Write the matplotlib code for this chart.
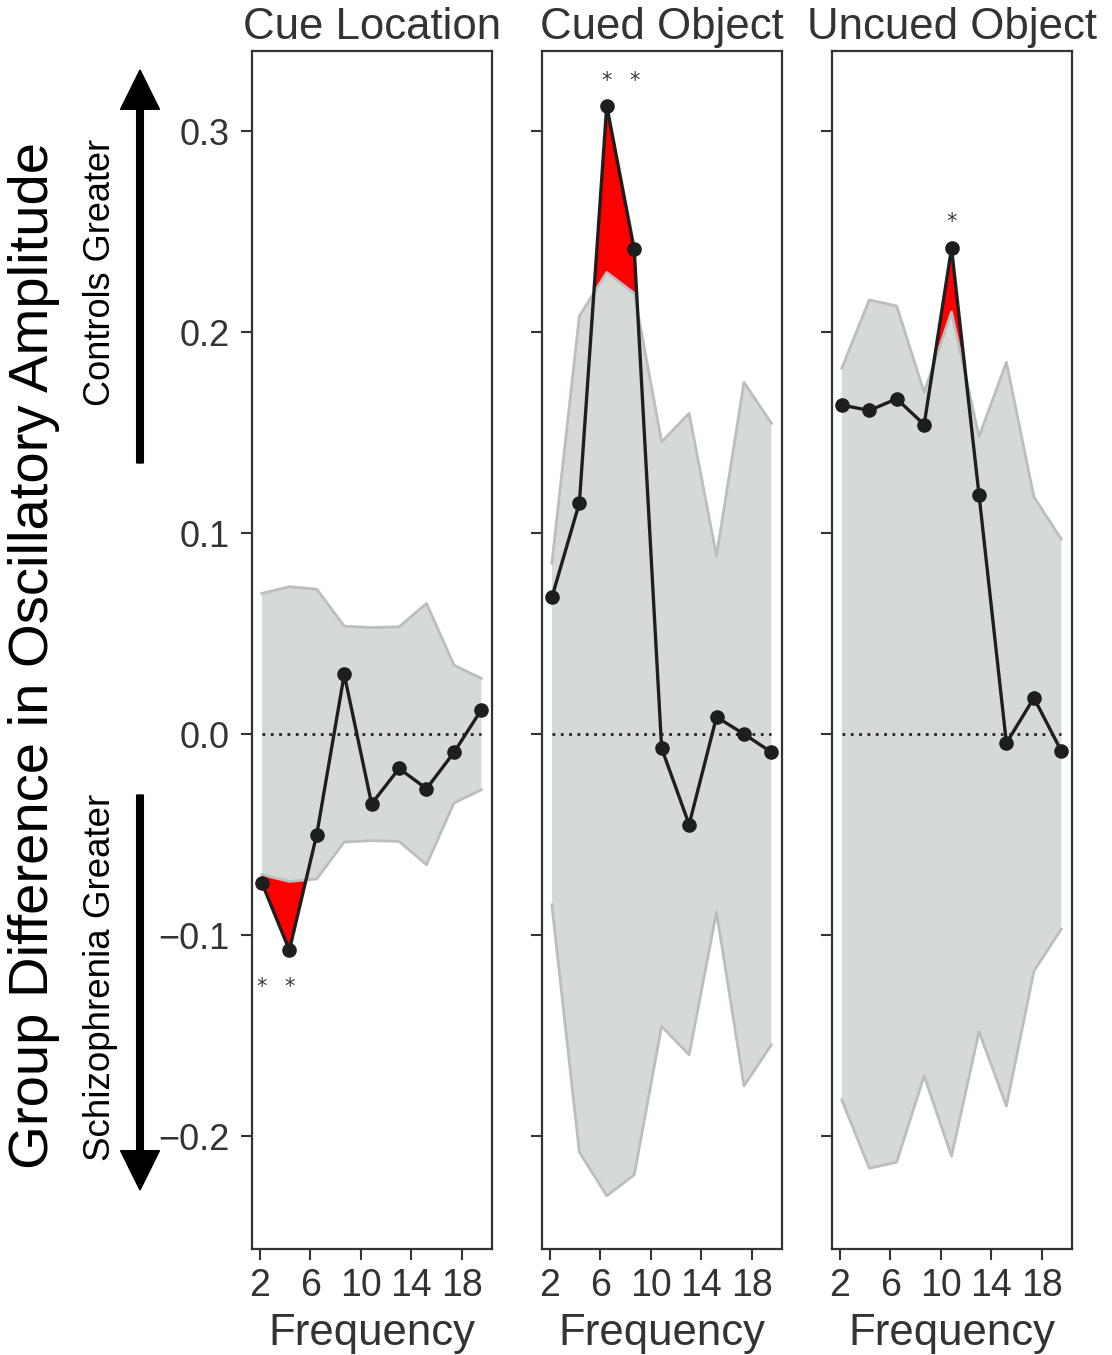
import matplotlib
matplotlib.use('Agg')
import matplotlib.pyplot as plt
import numpy as np

# frequencies (x positions of the 9 points)
freqs = [2.15, 4.33, 6.5, 8.68, 10.85, 13.03, 15.2, 17.38, 19.55]

titles = ['Cue Location', 'Cued Object', 'Uncued Object']

# group difference per frequency
diff_cue_loc = [-0.074, -0.1075, -0.050, 0.0297, -0.0347, -0.0171, -0.0272, -0.0091, 0.0121]
diff_cued_obj = [0.068, 0.115, 0.3126, 0.2411, -0.007, -0.045, 0.0085, 0.0, -0.009]
diff_uncued_obj = [0.1637, 0.161, 0.1668, 0.154, 0.2417, 0.119, -0.0045, 0.018, -0.0084]

# half width of the null band (band is symmetric around zero)
band_cue_loc = [0.070, 0.0733, 0.0721, 0.0537, 0.053, 0.0534, 0.065, 0.0343, 0.0277]
band_cued_obj = [0.085, 0.208, 0.2297, 0.2193, 0.1454, 0.1596, 0.0886, 0.175, 0.1546]
band_uncued_obj = [0.182, 0.216, 0.213, 0.170, 0.210, 0.148, 0.185, 0.118, 0.097]

# significance stars: (panel, point index, y)
stars = [(0, 0, -0.126), (0, 1, -0.126), (1, 2, 0.325), (1, 3, 0.325), (2, 4, 0.255)]

diffs = [diff_cue_loc, diff_cued_obj, diff_uncued_obj]
bands = [band_cue_loc, band_cued_obj, band_uncued_obj]

font = ['Liberation Sans', 'DejaVu Sans']
txt_col = '#333333'

fig = plt.figure(figsize=(11.12, 13.55), dpi=100)
lefts = [0.2263, 0.4871, 0.7478]
axs = [fig.add_axes([l, 0.0782, 0.2160, 0.8841]) for l in lefts]

for i, ax in enumerate(axs):
    x = np.array(freqs)
    y = np.array(diffs[i])
    b = np.array(bands[i])
    ax.fill_between(x, -b, b, facecolor='#d5dad6', edgecolor='none', zorder=1)
    ax.plot(x, b, color='#bdbdbd', lw=2, zorder=3)
    ax.plot(x, -b, color='#bdbdbd', lw=2, zorder=3)
    ax.fill_between(x, y, b, where=y > b, interpolate=True, color='red', lw=0, zorder=2)
    ax.fill_between(x, y, -b, where=y < -b, interpolate=True, color='red', lw=0, zorder=2)
    ax.plot([x[0], x[-1]], [0, 0], color='#222222', ls=(0, (1, 2)), lw=2, zorder=4)
    ax.plot(x, y, color='#1e1e1e', lw=2.4, marker='o', ms=9.5, zorder=5)

    ax.set_xlim(1.34, 20.38)
    ax.set_ylim(-0.2562, 0.3398)
    ax.set_xticks([2, 6, 10, 14, 18])
    ax.set_yticks([-0.2, -0.1, 0.0, 0.1, 0.2, 0.3])
    ax.tick_params(direction='out', length=8, width=1.5, color='#333333', pad=6)
    for lab in ax.get_xticklabels():
        lab.set_family(font)
        lab.set_fontsize(27)
        lab.set_color(txt_col)
    if i == 0:
        ax.set_yticklabels(['\u22120.2', '\u22120.1', '0.0', '0.1', '0.2', '0.3'])
        for lab in ax.get_yticklabels():
            lab.set_family(font)
            lab.set_fontsize(26)
            lab.set_color(txt_col)
        ax.tick_params(axis='y', pad=8)
    else:
        ax.set_yticklabels([])
    for s in ax.spines.values():
        s.set_color('#333333')
        s.set_linewidth(1.6)
    ax.set_title(titles[i], family=font, fontsize=31.5, color=txt_col, pad=9)
    ax.set_xlabel('Frequency', family=font, fontsize=31.5, color=txt_col, labelpad=6)

for p, k, ys in stars:
    axs[p].text(freqs[k], ys, '*', ha='center', va='center', fontsize=15, color='#3a3a3a')

# y label and direction arrows
fig.text(0.031, 0.516, 'Group Difference in Oscillatory Amplitude', rotation=90,
         ha='center', va='center', family=font, fontsize=40.5, color='black')
fig.text(0.090, 0.799, 'Controls Greater', rotation=90, ha='center', va='center',
         family=font, fontsize=26, color='black')
fig.text(0.090, 0.279, 'Schizophrenia Greater', rotation=90, ha='center', va='center',
         family=font, fontsize=26.5, color='black')
fig.patches.append(matplotlib.patches.FancyArrow(
    0.1259, 1 - 463 / 1355, 0, (463 - 70) / 1355, width=0.006, head_width=0.035,
    head_length=0.029, length_includes_head=True, color='black',
    transform=fig.transFigure, figure=fig))
fig.patches.append(matplotlib.patches.FancyArrow(
    0.1259, 1 - 795 / 1355, 0, -(1190 - 795) / 1355, width=0.006, head_width=0.035,
    head_length=0.029, length_includes_head=True, color='black',
    transform=fig.transFigure, figure=fig))

fig.savefig('out.png', dpi=100)
